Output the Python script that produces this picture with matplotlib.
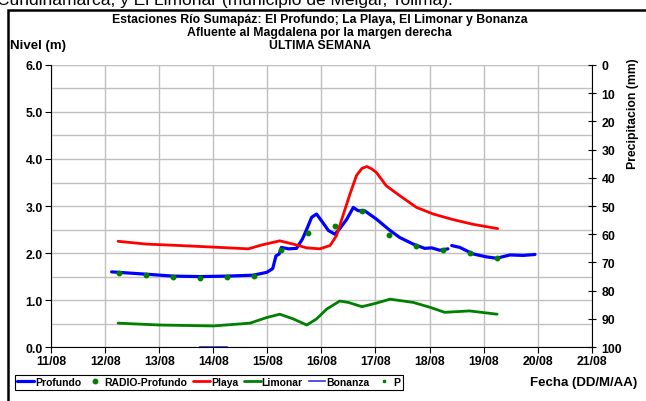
import matplotlib.pyplot as plt
import numpy as np
from matplotlib.patches import Rectangle

# days of August (11 = 11/08)
prof_x = [12.12, 12.77, 13.26, 13.75, 14.25, 14.74, 14.99, 15.10, 15.16, 15.22, 15.26, 15.39,
          15.54, 15.65, 15.73, 15.82, 15.91, 16.00, 16.13, 16.25, 16.34, 16.47, 16.59, 16.68,
          16.80, 17.02, 17.27, 17.45, 17.70, 17.91, 18.04, 18.19, 18.34, 18.37,
          18.41, 18.56, 18.81, 19.05, 19.24, 19.49, 19.73, 19.95]
prof_y = [1.60, 1.55, 1.51, 1.50, 1.51, 1.53, 1.59, 1.67, 1.94, 1.98, 2.12, 2.09,
          2.10, 2.30, 2.51, 2.76, 2.83, 2.69, 2.48, 2.40, 2.52, 2.72, 2.97, 2.90,
          2.90, 2.72, 2.48, 2.33, 2.19, 2.10, 2.11, 2.06, 2.09, np.nan,
          2.16, 2.12, 1.98, 1.92, 1.89, 1.96, 1.95, 1.97]

radio_x = [12.25, 12.75, 13.25, 13.75, 14.25, 14.75, 15.25, 15.75, 16.25, 16.75,
           17.25, 17.75, 18.25, 18.75, 19.25]
radio_y = [1.57, 1.53, 1.50, 1.48, 1.50, 1.52, 2.06, 2.42, 2.58, 2.89,
           2.39, 2.16, 2.06, 2.01, 1.90]

playa_x = [12.24, 12.77, 13.38, 14.12, 14.65, 14.89, 15.23, 15.48, 15.73, 15.97, 16.16,
           16.28, 16.40, 16.53, 16.65, 16.75, 16.84, 16.93, 17.02, 17.20, 17.45, 17.76,
           18.07, 18.44, 18.81, 19.26]
playa_y = [2.25, 2.19, 2.16, 2.12, 2.09, 2.17, 2.26, 2.19, 2.11, 2.09, 2.16,
           2.37, 2.80, 3.26, 3.65, 3.80, 3.84, 3.79, 3.71, 3.43, 3.22, 2.97,
           2.83, 2.71, 2.61, 2.52]

limon_x = [12.24, 13.01, 14.00, 14.68, 14.99, 15.23, 15.48, 15.73, 15.91, 16.10, 16.34,
           16.50, 16.75, 17.00, 17.27, 17.70, 18.00, 18.28, 18.74, 19.25]
limon_y = [0.51, 0.47, 0.45, 0.51, 0.63, 0.70, 0.60, 0.47, 0.60, 0.81, 0.98,
           0.95, 0.86, 0.93, 1.02, 0.95, 0.85, 0.74, 0.77, 0.70]

bonanza_x = [13.75, 14.25]
bonanza_y = [0.0, 0.0]

p_x = []
p_y = []

xtick_labels = ['11/08', '12/08', '13/08', '14/08', '15/08', '16/08', '17/08',
                '18/08', '19/08', '20/08', '21/08']

plt.rcParams['font.family'] = 'Liberation Sans'
plt.rcParams['font.weight'] = 'bold'
plt.rcParams['font.size'] = 8.8

fig = plt.figure(figsize=(6.46, 4.02), dpi=100)
ax = fig.add_axes([0.079, 0.134, 0.837, 0.702])

ax.set_xlim(11, 21)
ax.set_ylim(0, 6)
ax.set_xticks(range(11, 22))
ax.set_xticklabels(xtick_labels, fontweight='bold')
ax.set_yticks(np.arange(0, 6.1, 1.0))
ax.set_yticklabels(['%.1f' % v for v in np.arange(0, 6.1, 1.0)], fontweight='bold')
ax.set_yticks(np.arange(0, 6.1, 0.5), minor=True)
ax.grid(True, which='both', color='#c0c0c0', linewidth=1.0)
ax.set_axisbelow(True)
ax.spines['top'].set_visible(False)
ax.spines['right'].set_visible(False)
ax.tick_params(axis='y', which='minor', length=0)
ax.tick_params(axis='both', which='major', length=4, direction='out', pad=2)

kw = dict(solid_joinstyle='round', solid_capstyle='round')
l1, = ax.plot(prof_x, prof_y, color='#0000ff', lw=2.3, **kw)
l2, = ax.plot(radio_x, radio_y, 'o', color='#008000', ms=3.2, ls='none')
l3, = ax.plot(playa_x, playa_y, color='#ff0000', lw=2.0, **kw)
l4, = ax.plot(limon_x, limon_y, color='#008000', lw=2.0, **kw)
l5, = ax.plot(bonanza_x, bonanza_y, color='#3333dd', lw=1.2, clip_on=False)
l6, = ax.plot(p_x, p_y, 's', color='#008000', ms=1.8, ls='none')

ax2 = ax.twinx()
ax2.set_ylim(100, 0)
ax2.set_yticks(range(0, 101, 10))
ax2.set_yticklabels([str(v) for v in range(0, 101, 10)], fontweight='bold')
ax2.tick_params(axis='y', direction='inout', length=6, pad=4)
for s in ['top', 'left', 'bottom']:
    ax2.spines[s].set_visible(False)
ax2.set_ylabel('Precipitacion (mm)', fontweight='bold', fontsize=8.8)
ax2.yaxis.set_label_coords(1.066, 0.83)

fig.text(0.495, 0.950, 'Estaciones Río Sumapáz: El Profundo; La Playa, El Limonar y Bonanza',
         ha='center', va='center', fontsize=8.8, fontweight='bold')
fig.text(0.495, 0.918, 'Afluente al Magdalena por la margen derecha',
         ha='center', va='center', fontsize=8.8, fontweight='bold')
fig.text(0.495, 0.886, 'ULTIMA SEMANA', ha='center', va='center', fontsize=8.8, fontweight='bold')
fig.text(0.016, 0.886, 'Nivel (m)', ha='left', va='center', fontsize=9.5, fontweight='bold')
fig.text(0.820, 0.047, 'Fecha (DD/M/AA)', ha='left', va='center', fontsize=9.5, fontweight='bold')

# text of the page above the chart, cut by the image edge
fig.text(-0.004, 0.9876, 'Cundinamarca, y El Limonar (municipio de Melgar, Tolima).',
         ha='left', va='baseline', fontsize=12.5, fontweight='normal')

# outer frame of the chart
fig.patches.append(Rectangle((0.013, -0.05), 1.2, 1.023, transform=fig.transFigure,
                             fill=False, edgecolor='black', linewidth=1.8, clip_on=False))

leg = fig.legend([l1, l2, l3, l4, l5, l6],
                 ['Profundo', 'RADIO-Profundo', 'Playa', 'Limonar', 'Bonanza', 'P'],
                 loc='center left', bbox_to_anchor=(0.023, 0.047), ncol=6, fontsize=7.5,
                 frameon=True, fancybox=False, edgecolor='black', framealpha=1,
                 handlelength=1.6, handletextpad=0.1, columnspacing=0.55,
                 borderpad=0.25, borderaxespad=0)
leg.get_frame().set_linewidth(0.8)

fig.savefig('out.png', dpi=100)
